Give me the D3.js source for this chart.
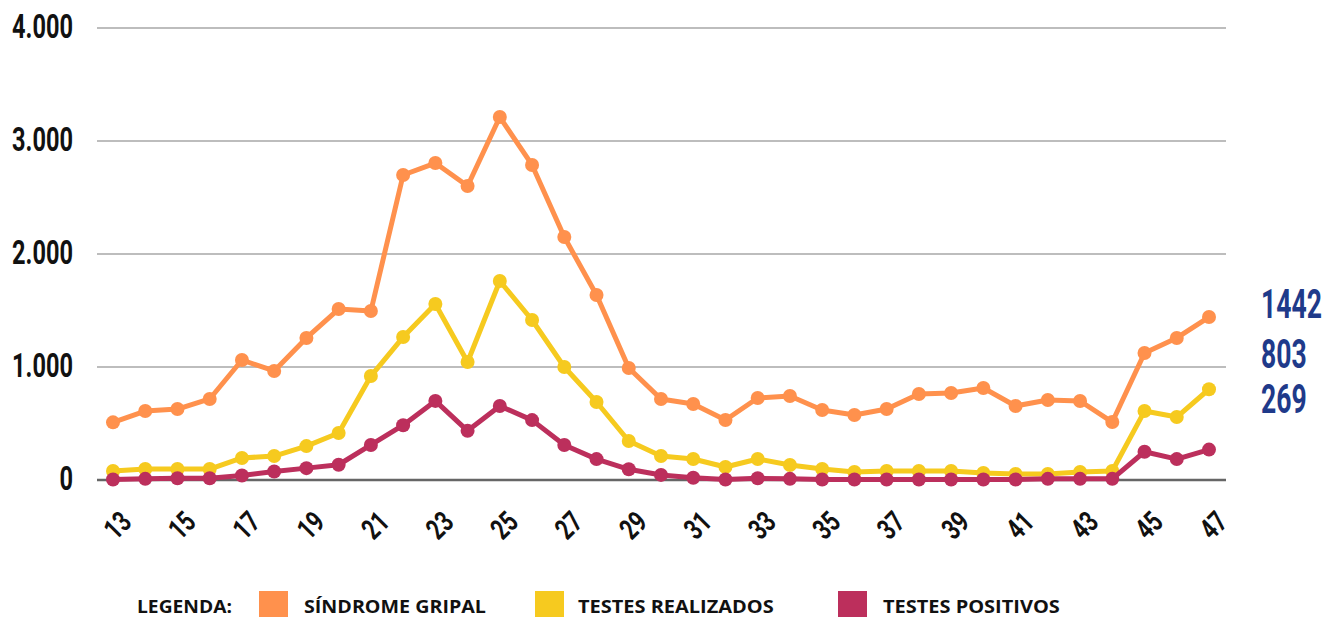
<!DOCTYPE html>
<html>
<head>
<meta charset="utf-8">
<script src="https://cdn.jsdelivr.net/npm/d3@7"></script>
<style>
  html, body { margin: 0; padding: 0; background: #fff; }
  svg { display: block; }
</style>
</head>
<body>
<svg id="chart" width="1325" height="617"></svg>
<script>
// Weekly flu-like syndrome cases vs tests done / positive (epi weeks 13-47)
const weeks = d3.range(13, 48);
const yTicks = [0, 1000, 2000, 3000, 4000];

const sindromeGripal = [510, 610, 628, 717, 1062, 965, 1257, 1513, 1496, 2699, 2805, 2602, 3212, 2788, 2150, 1637,
  991, 717, 672, 531, 726, 743, 619, 575, 628, 761, 770, 814, 655, 708, 699, 513, 1124, 1257, 1442];
const testesRealizados = [80, 97, 97, 97, 195, 212, 300, 416, 920, 1265, 1557, 1044, 1761, 1416, 1000, 690,
  345, 212, 186, 115, 186, 133, 97, 71, 80, 80, 80, 62, 53, 53, 71, 80, 610, 557, 803];
const testesPositivos = [5, 10, 15, 15, 40, 75, 105, 135, 310, 485, 700, 435, 655, 530, 310, 185,
  95, 45, 20, 5, 15, 10, 5, 5, 5, 5, 5, 5, 5, 10, 10, 10, 250, 185, 269];

const series = [
  { name: "SÍNDROME GRIPAL", values: sindromeGripal, color: "#FF914D" },
  { name: "TESTES REALIZADOS", values: testesRealizados, color: "#F6CA1F" },
  { name: "TESTES POSITIVOS", values: testesPositivos, color: "#BC2F5C" }
];

const svg = d3.select("#chart");
const numFont = "Roboto, 'DejaVu Sans', sans-serif";
const legendFont = "'Open Sans', 'Noto Sans', sans-serif";

// the original uses a tall condensed face; squeeze a regular one horizontally
function squeeze(sel, sx, extra = "") {
  sel.attr("transform", function() {
    const t = d3.select(this);
    return `translate(${t.attr("data-x")},${t.attr("data-y")}) ${extra} scale(${sx},1)`;
  });
}

const x = d3.scalePoint()
  .domain(weeks)
  .range([113, 1209]);

const y = d3.scaleLinear()
  .domain([0, 4000])
  .range([480, 28]);

const gridLeft = 97, gridRight = 1226;

// horizontal grid, baseline darker
svg.append("g")
  .selectAll("line")
  .data(yTicks)
  .join("line")
  .attr("x1", gridLeft)
  .attr("x2", gridRight)
  .attr("y1", d => y(d))
  .attr("y2", d => y(d))
  .attr("stroke", d => d === 0 ? "#666" : "#bdbdbd")
  .attr("stroke-width", d => d === 0 ? 2.5 : 2);

// y labels (pt-BR thousands separator)
const fmt = d3.formatLocale({ decimal: ",", thousands: ".", grouping: [3], currency: ["R$", ""] }).format(",");
const yLabels = svg.append("g")
  .selectAll("text")
  .data(yTicks)
  .join("text")
  .attr("data-x", 73)
  .attr("data-y", d => y(d) - 2)
  .attr("dy", "0.36em")
  .attr("text-anchor", "end")
  .attr("font-family", numFont)
  .attr("font-weight", 700)
  .attr("font-size", 33)
  .attr("fill", "#111")
  .text(d => fmt(d));
const wTop = yLabels.filter(d => d === 4000).node().getComputedTextLength();
squeeze(yLabels, 61 / wTop);

// x labels, odd weeks, rotated
const xLabels = svg.append("g")
  .selectAll("text")
  .data(weeks.filter(w => w % 2 === 1))
  .join("text")
  .attr("data-x", d => x(d) + 4)
  .attr("data-y", 525)
  .attr("text-anchor", "middle")
  .attr("dy", "0.36em")
  .attr("font-family", numFont)
  .attr("font-weight", 700)
  .attr("font-size", 29)
  .attr("fill", "#111")
  .text(d => d);
squeeze(xLabels, 0.74, "rotate(-45)");

const line = d3.line()
  .x((d, i) => x(weeks[i]))
  .y(d => y(d));

series.forEach(s => {
  const g = svg.append("g");
  g.append("path")
    .attr("d", line(s.values))
    .attr("fill", "none")
    .attr("stroke", s.color)
    .attr("stroke-width", 5)
    .attr("stroke-linejoin", "round");
  g.selectAll("circle")
    .data(s.values)
    .join("circle")
    .attr("cx", (d, i) => x(weeks[i]))
    .attr("cy", d => y(d))
    .attr("r", 7)
    .attr("fill", s.color);
});

// last-week values on the right
const lastIdx = weeks.length - 1;
const endBase = [318, 368, 413];
const endLabels = svg.append("g")
  .selectAll("text")
  .data(series)
  .join("text")
  .attr("data-x", 1261)
  .attr("data-y", (d, i) => endBase[i])
  .attr("font-family", numFont)
  .attr("font-weight", 700)
  .attr("font-size", 40)
  .attr("fill", "#1F3A8A")
  .text(d => d.values[lastIdx]);
const wEnd = endLabels.filter((d, i) => i === 0).node().getComputedTextLength();
squeeze(endLabels, 61 / wEnd);

// legend
const legendBase = 613;
const legendItems = [
  { label: "LEGENDA:", x: 137, width: 95 },
  { label: series[0].name, x: 304, width: 182, swatch: 259, color: series[0].color },
  { label: series[1].name, x: 578, width: 196, swatch: 535, color: series[1].color },
  { label: series[2].name, x: 883, width: 177, swatch: 838, color: series[2].color }
];
legendItems.forEach(it => {
  if (it.swatch !== undefined) {
    svg.append("rect")
      .attr("x", it.swatch)
      .attr("y", 591)
      .attr("width", 29)
      .attr("height", 29)
      .attr("fill", it.color);
  }
  const t = svg.append("text")
    .attr("data-x", it.x)
    .attr("data-y", legendBase)
    .attr("font-family", legendFont)
    .attr("font-weight", 700)
    .attr("font-size", 17.5)
    .attr("fill", "#111")
    .text(it.label);
  squeeze(t, it.width / t.node().getComputedTextLength());
});
</script>
</body>
</html>
